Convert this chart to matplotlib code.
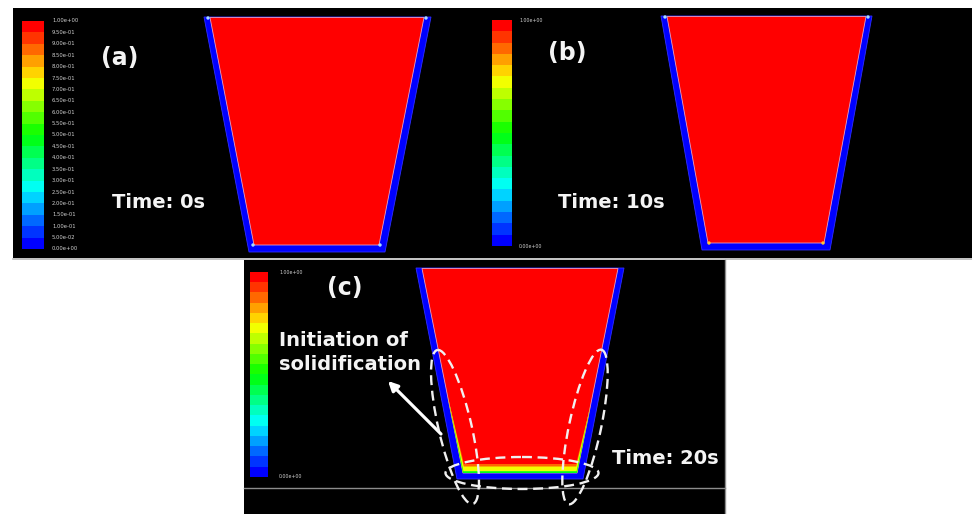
import matplotlib
matplotlib.use('Agg')
import matplotlib.pyplot as plt
from matplotlib.patches import Rectangle, Polygon, Ellipse
from matplotlib.colors import LinearSegmentedColormap, ListedColormap, BoundaryNorm
import numpy as np

W, H = 972, 514

# ---------------- data / layout values (pixel coordinates of the picture) ----------------
bg_top = (13, 8, 972, 257.5)          # black strip holding panels (a) and (b)
bg_c = (244, 259.5, 724.5, 514)       # black box of panel (c)

panel_labels = ['(a)', '(b)', '(c)']
panel_label_pos = [(120, 58), (567, 53), (345, 288)]
time_labels = ['Time: 0s', 'Time: 10s', 'Time: 20s']
time_label_pos = [(112, 202), (558, 202), (612, 458)]
note_lines = ['Initiation of', 'solidification']
note_pos = [(279, 341), (279, 364)]
arrow_tail = (441, 434)
arrow_head = (388, 381)

# vessel geometry: outer (solid wall) and inner (melt) polygons
outer_a = [(204, 17), (431, 17), (385, 252), (249, 252)]
inner_a = [(210, 17.5), (424, 17.5), (379, 245), (254, 245)]
outer_b = [(661, 16), (872, 16), (830, 250), (702, 250)]
inner_b = [(667, 16.5), (866, 16.5), (824, 243), (708, 243)]
outer_c = [(416, 268), (624, 268), (583, 479), (457, 479)]
inner_c = [(422, 268.5), (618, 268.5), (577, 473), (463, 473)]

# liquid fraction values
f_liquid = 1.0
f_solid = 0.0
# mushy zone in (c): (side thickness, bottom thickness, liquid fraction)
mush_bands = [(3.2, 9.0, 0.88), (2.2, 6.5, 0.74), (0.8, 1.8, 0.47)]
mush_start_left = 395
mush_start_right = 405

# colorbars: x0, x1, y_top, y_bottom
cbar_a = (22, 43, 21, 249)
cbar_b = (492, 512, 20, 246)
cbar_c = (250, 268, 272, 477)
cbar_ticks_full = [1.00, 0.95, 0.90, 0.85, 0.80, 0.75, 0.70, 0.65, 0.60, 0.55, 0.50,
                   0.45, 0.40, 0.35, 0.30, 0.25, 0.20, 0.15, 0.10, 0.05, 0.00]
cbar_ticks_ends = [1.00, 0.00]
n_levels = 20

# dashed ellipses in (c): cx, cy, width, height, angle
ellipses_c = [(455, 427, 33, 158, -13), (585, 427, 32, 158, 12), (522, 473, 153, 32, 0)]

# ---------------- colour map (Fluent-like rainbow) ----------------
base = LinearSegmentedColormap.from_list(
    'fluent', [(0, (0, 0, 1)), (0.25, (0, 1, 1)), (0.5, (0, 1, 0)),
               (0.75, (1, 1, 0)), (1.0, (1, 0, 0))])
band_cmap = ListedColormap([base(i / (n_levels - 1)) for i in range(n_levels)])
levels = np.linspace(0, 1, n_levels + 1)
norm = BoundaryNorm(levels, n_levels)


def col(v):
    return band_cmap(norm(min(v, 0.9999)))


fig = plt.figure(figsize=(9.72, 5.14), dpi=100)
fig.patch.set_facecolor('white')
ax = fig.add_axes([0, 0, 1, 1])
ax.axis('off')

# backgrounds
for (x0, y0, x1, y1) in [bg_top, bg_c]:
    ax.add_patch(Rectangle((x0, y0), x1 - x0, y1 - y0, facecolor='black', edgecolor='none', zorder=0))
ax.plot([bg_top[0], bg_top[2]], [258.5, 258.5], color='#b8b8b8', lw=1.2, zorder=1)
ax.plot([bg_c[0], bg_c[2]], [488, 488], color='#8c8c8c', lw=1.0, zorder=1)
ax.plot([bg_c[2], bg_c[2]], [bg_c[1], bg_c[3]], color='#8c8c8c', lw=1.0, zorder=1)


def draw_colorbar(cb, ticks, fs, lx):
    x0, x1, yt, yb = cb
    centers = (levels[:-1] + levels[1:]) / 2
    img = centers[::-1].reshape(-1, 1)
    ax.imshow(img, cmap=band_cmap, norm=norm, extent=(x0, x1, yb, yt), origin='upper',
              aspect='auto', interpolation='nearest', zorder=2)
    for t in ticks:
        y = yb - t * (yb - yt)
        ax.text(lx, y, f'{t:.2e}', color='#d0d0d0', fontsize=fs, ha='left', va='center',
                family='DejaVu Sans', zorder=3)


draw_colorbar(cbar_a, cbar_ticks_full, 3.8, 52)
draw_colorbar(cbar_b, cbar_ticks_ends, 3.4, 519)
draw_colorbar(cbar_c, cbar_ticks_ends, 3.4, 279)

# vessels
for outer, inner in [(outer_a, inner_a), (outer_b, inner_b), (outer_c, inner_c)]:
    ax.add_patch(Polygon(outer, closed=True, facecolor=col(f_solid), edgecolor='#3030ff', lw=0.6, zorder=2))
    ax.add_patch(Polygon(inner, closed=True, facecolor=col(f_liquid), edgecolor='#e8a0c0', lw=0.6, zorder=3))


def mush_poly(inner, d_side, d_bot, y_l, y_r):
    (xtl, yt), (xtr, _), (xbr, yb), (xbl, _) = inner

    def xl(y):
        return xtl + (xbl - xtl) * (y - yt) / (yb - yt)

    def xr(y):
        return xtr + (xbr - xtr) * (y - yt) / (yb - yt)

    pts = [(xl(y), y) for y in np.linspace(y_l, yb, 25)]
    pts += [(xr(y), y) for y in np.linspace(yb, y_r, 25)]
    yb2 = yb - d_bot
    pts += [(xr(y) - d_side * (y - y_r) / (yb - y_r), y) for y in np.linspace(y_r, yb2, 25)]
    pts += [(xl(y) + d_side * (y - y_l) / (yb - y_l), y) for y in np.linspace(yb2, y_l, 25)]
    return pts


for d_side, d_bot, f in mush_bands:
    ax.add_patch(Polygon(mush_poly(inner_c, d_side, d_bot, mush_start_left, mush_start_right),
                         closed=True, facecolor=col(f), edgecolor='none', zorder=4))

# corner highlights
corner_pts_x = [208, 426, 253, 380, 665, 868, 709, 823]
corner_pts_y = [18, 18, 245, 245, 17, 17, 243, 243]
corner_cols = ['#a8dcff'] * 6 + ['#ffc830'] * 2
ax.scatter(corner_pts_x, corner_pts_y, s=6, c=corner_cols, zorder=5, linewidths=0)

# texts
bold = dict(color='#f4f4f4', fontweight='bold', family='DejaVu Sans', zorder=6)
for lab, (x, y) in zip(panel_labels, panel_label_pos):
    ax.text(x, y, lab, fontsize=17, ha='center', va='center', **bold)
for lab, (x, y) in zip(time_labels, time_label_pos):
    ax.text(x, y, lab, fontsize=14, ha='left', va='center', **bold)
for lab, (x, y) in zip(note_lines, note_pos):
    ax.text(x, y, lab, fontsize=14, ha='left', va='center', **bold)

ax.annotate('', xy=arrow_head, xytext=arrow_tail,
            arrowprops=dict(arrowstyle='-|>', color='white', lw=2.3, mutation_scale=14,
                            shrinkA=0, shrinkB=0), zorder=6)

for cx, cy, w, h, ang in ellipses_c:
    ax.add_patch(Ellipse((cx, cy), w, h, angle=ang, fill=False, edgecolor='#f0f0f0',
                         lw=1.7, linestyle=(0, (4.2, 2.4)), zorder=7))

ax.set_xlim(0, W)
ax.set_ylim(H, 0)
fig.savefig('out.png', dpi=100, facecolor='white')
